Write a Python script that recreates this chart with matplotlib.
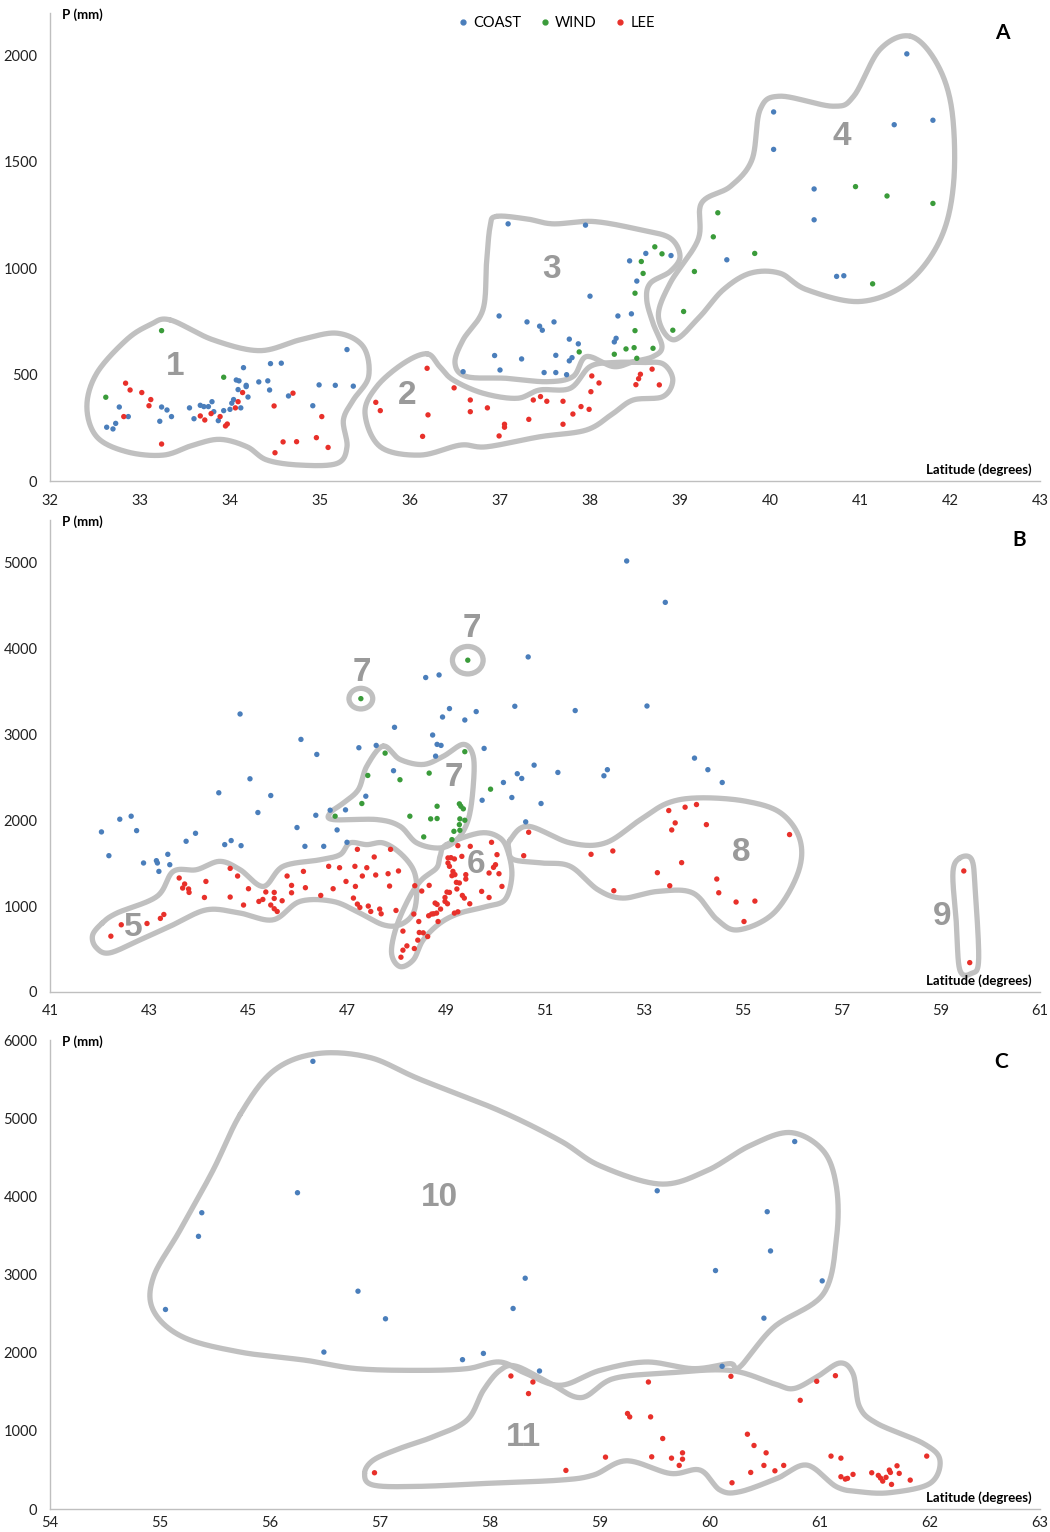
import numpy as np
import matplotlib
matplotlib.use("Agg")
import matplotlib.pyplot as plt
from matplotlib.patches import Ellipse
from matplotlib.lines import Line2D

plt.rcParams['font.family'] = ['Lato', 'DejaVu Sans']

BLUE = '#4a7ebb'
GREEN = '#3a9b3a'
RED = '#e8302a'
OUTLINE = '#c0c0c0'
LABEL = '#9a9a9a'

# ---------------- panel A data ----------------
a_coast_lat = [32.63, 32.70, 32.73, 32.77, 32.87, 33.22, 33.24, 33.30, 33.35, 33.55, 33.60, 33.67, 33.71, 33.76,
               33.80, 33.82, 33.87, 33.93, 34.00, 34.02, 34.04, 34.07, 34.10, 34.09, 34.15, 34.18, 34.18, 34.12,
               34.20, 34.32, 34.42, 34.44, 34.45, 34.57, 34.65, 34.92, 34.99, 35.17, 35.30, 35.37,
               36.59, 36.94, 36.99, 37.00, 37.09, 37.24, 37.30, 37.44, 37.47, 37.49, 37.60, 37.62, 37.62, 37.74,
               37.77, 37.77, 37.80, 37.87, 37.95, 38.00, 38.27, 38.29, 38.31, 38.44, 38.46, 38.52, 38.62, 38.90,
               39.52, 40.04, 40.04, 40.49, 40.49, 40.74, 40.82, 41.38, 41.52, 41.81]
a_coast_p = [253, 245, 271, 348, 303, 281, 348, 334, 303, 344, 293, 356, 350, 350,
             373, 326, 284, 331, 337, 366, 383, 475, 471, 430, 533, 450, 444, 344,
             395, 466, 471, 428, 552, 554, 400, 354, 452, 450, 618, 446,
             514, 590, 776, 522, 1209, 574, 748, 728, 709, 510, 748, 591, 510, 500,
             667, 565, 580, 645, 1203, 869, 654, 671, 776, 1035, 786, 940, 1070, 1060,
             1040, 1735, 1559, 1373, 1228, 962, 965, 1675, 2008, 1696]

a_wind_lat = [33.24, 32.62, 33.93, 38.72, 38.80, 38.57, 38.59, 38.50, 38.50, 37.88, 38.27, 38.40, 38.49,
              38.70, 38.52, 39.16, 39.04, 38.92, 40.95, 41.30, 41.81, 39.42, 39.37, 39.83, 41.14]
a_wind_p = [707, 394, 488, 1101, 1068, 1032, 976, 883, 707, 607, 596, 621, 627,
            624, 577, 985, 797, 709, 1384, 1340, 1305, 1261, 1148, 1070, 927]

a_lee_lat = [32.84, 32.89, 32.82, 33.02, 33.12, 33.10, 33.24, 33.67, 33.72, 33.79, 33.89, 33.95, 33.97,
             34.06, 34.09, 34.14, 34.49, 34.59, 34.50, 34.70, 34.74, 34.96, 35.02, 35.09,
             36.19, 35.62, 35.67, 36.20, 36.14, 36.49, 36.67, 36.67, 36.86, 37.37, 37.45, 37.52, 37.70,
             37.32, 37.05, 37.05, 36.99, 37.70, 37.81, 37.90, 37.99, 38.01, 38.10, 38.02, 38.51, 38.54,
             38.56, 38.69, 38.77]
a_lee_p = [460, 428, 303, 416, 383, 354, 174, 306, 287, 317, 303, 259, 268,
           344, 373, 416, 353, 184, 133, 413, 185, 204, 303, 158,
           530, 370, 331, 311, 210, 438, 381, 326, 344, 381, 397, 375, 375,
           290, 267, 253, 212, 267, 315, 350, 337, 420, 461, 494, 453, 481,
           502, 526, 452]

# ---------------- panel B data ----------------
b_coast_lat = [44.84, 46.07, 46.39, 47.24, 45.04, 44.41, 45.46, 45.20, 42.41, 42.64, 42.75, 42.04, 42.19,
               42.89, 43.15, 43.17, 43.20, 43.38, 43.42, 43.75, 43.94, 44.53, 44.66, 44.86, 45.99, 46.37,
               46.66, 46.97, 47.38, 46.80, 46.15, 46.53, 47.00,
               50.66, 48.59, 48.86, 49.07, 48.93, 49.38, 49.61, 50.39, 47.96, 48.73, 48.82, 48.90, 48.79,
               49.77, 47.59, 47.94, 50.78, 50.44, 50.53, 50.16, 51.26, 49.73, 50.33, 50.92, 50.61,
               52.65, 53.43, 51.61, 53.06, 54.02, 54.29, 54.58, 52.19, 52.26]
b_coast_p = [3239, 2943, 2768, 2846, 2484, 2321, 2289, 2091, 2013, 2048, 1880, 1865, 1588,
             1503, 1530, 1503, 1405, 1604, 1483, 1756, 1849, 1717, 1764, 1705, 1916, 2059,
             2118, 2122, 2281, 1888, 1697, 1697, 1744,
             3904, 3664, 3694, 3302, 3204, 3169, 3267, 3329, 3084, 2994, 2885, 2873, 2748,
             2838, 2873, 2578, 2643, 2543, 2488, 2441, 2558, 2234, 2266, 2196, 1982,
             5022, 4540, 3279, 3332, 2725, 2590, 2441, 2519, 2590]

b_wind_lat = [47.28, 49.44, 47.77, 47.42, 48.07, 47.30, 46.76, 48.66, 49.38, 49.90, 48.82, 48.27, 48.69,
              48.82, 49.27, 49.30, 49.35, 49.28, 49.38, 49.27, 49.28, 49.16, 48.55, 49.12]
b_wind_p = [3418, 3866, 2783, 2523, 2473, 2196, 2048, 2550, 2800, 2363, 2164, 2048, 2017,
            2021, 2192, 2164, 2134, 2017, 2001, 1950, 1884, 1872, 1807, 1775]

b_lee_lat = [42.23, 42.44, 42.96, 43.23, 43.30, 43.61, 43.72, 43.68, 43.80, 43.81, 44.15, 44.12, 44.64,
             44.79, 44.64, 45.01, 44.91, 45.22, 45.30, 45.36, 45.53, 45.53, 45.46, 45.53, 45.59, 45.69,
             45.79, 45.88, 45.88, 46.12, 46.16, 46.47, 46.63, 46.72, 46.85, 46.98, 47.16, 47.17, 47.21,
             47.31, 47.40, 47.13, 47.21, 47.26, 47.43,
             47.48, 47.55, 47.58, 47.66, 47.69, 47.83, 47.86, 47.88, 48.04, 47.99, 48.37, 48.51,
             48.66, 48.35, 48.45, 48.13, 48.46, 48.54, 48.63, 48.43, 48.21, 48.13, 48.36, 48.09, 48.65,
             48.71, 48.75, 48.81, 48.84, 48.78, 48.82, 48.89, 49.02, 48.98, 48.98, 49.07, 49.03, 49.17,
             49.24, 49.22, 49.21, 49.27, 49.33, 49.37, 49.48, 49.18, 49.12, 49.14, 49.07, 49.04, 49.04,
             49.10, 49.17, 49.32, 49.49, 49.24, 49.40, 49.40, 49.72, 49.87, 49.87, 49.96, 50.00, 50.07,
             50.13, 50.03, 49.92,
             50.67, 50.57, 53.50, 53.83, 54.06, 53.63, 53.56, 54.26, 55.94, 51.93, 52.37, 53.76, 53.27,
             53.52, 52.39, 54.47, 54.51, 54.86, 55.24, 55.02,
             59.46, 59.58]
b_lee_p = [650, 783, 798, 857, 903, 1328, 1258, 1211, 1200, 1160, 1288, 1101, 1440,
           1351, 1106, 1203, 1013, 1055, 1078, 1165, 1160, 1090, 1013, 970, 938, 1063,
           1351, 1242, 1156, 1405, 1215, 1125, 1464, 1203, 1448, 1288, 1464, 1230, 1662,
           1351, 1448, 1094, 1024, 985, 1001,
           938, 1573, 1363, 966, 911, 1378, 1234, 1662, 1410, 950, 1238, 1176,
           1242, 908, 821, 709, 693, 689, 646, 604, 537, 487, 506, 405, 888,
           908, 911, 919, 821, 1036, 1020, 966, 1164, 1101, 1055, 1160, 1028, 919,
           934, 1200, 1277, 1270, 1125, 1094, 1028, 1367, 1355, 1405, 1464, 1503, 1562,
           1565, 1550, 1580, 1697, 1705, 1367, 1316, 1172, 1101, 1386, 1452, 1483, 1378,
           1230, 1600, 1744,
           1861, 1588, 2114, 2153, 2184, 1970, 1888, 1950, 1834, 1604, 1643, 1507, 1390,
           1238, 1180, 1316, 1156, 1048, 1059, 821,
           1410, 342]

# ---------------- panel C data ----------------
c_coast_lat = [56.39, 56.25, 55.38, 55.35, 55.05, 56.80, 57.05, 56.49, 59.52, 60.05, 58.32, 58.21, 57.75,
               57.94, 58.45, 60.11, 60.77, 60.52, 60.55, 61.02, 60.49]
c_coast_p = [5728, 4047, 3791, 3489, 2553, 2787, 2434, 2008, 4072, 3051, 2953, 2566, 1911,
             1991, 1766, 1826, 4702, 3804, 3302, 2919, 2442]

c_lee_lat = [56.95, 58.19, 58.39, 58.35, 59.44, 59.25, 59.27, 59.46, 59.57, 59.05, 59.47, 59.65, 59.75,
             59.75, 59.72, 58.69, 60.20, 60.19, 61.14, 60.97, 60.82, 60.34, 60.40, 60.51, 60.49, 60.37,
             60.59, 60.67, 61.10, 61.19, 61.19, 61.23, 61.25, 61.30, 61.47, 61.53, 61.55, 61.57, 61.60,
             61.63, 61.64, 61.65, 61.70, 61.72, 61.82, 61.97]
c_lee_p = [464, 1702, 1625, 1477, 1625, 1222, 1179, 1179, 902, 664, 668, 651, 719,
           638, 558, 494, 336, 1698, 1706, 1634, 1391, 957, 813, 719, 558, 468,
           489, 558, 677, 651, 413, 383, 392, 443, 464, 430, 396, 357, 405,
           498, 468, 315, 553, 456, 370, 677]

# ---------------- group outlines (lat, P) ----------------
group1 = [(33.33, 758), (33.81, 664), (34.33, 613), (34.78, 664), (35.19, 695), (35.48, 632), (35.54, 491),
          (35.37, 381), (35.26, 287), (35.30, 161), (35.19, 83), (34.78, 75), (34.41, 99), (34.19, 161),
          (33.89, 196), (33.59, 169), (33.26, 122), (32.85, 138), (32.52, 208), (32.41, 350), (32.52, 507),
          (32.85, 664), (33.11, 734)]
group2 = [(36.19, 598), (36.33, 538), (36.48, 475), (36.81, 413), (37.19, 389), (37.44, 428), (37.78, 436),
          (38.00, 538), (38.26, 557), (38.56, 557), (38.81, 551), (38.92, 475), (38.81, 397), (38.48, 381),
          (38.26, 319), (37.96, 240), (37.44, 208), (36.85, 161), (36.56, 169), (36.11, 122), (35.67, 161),
          (35.50, 319), (35.63, 444), (35.93, 554)]
group3 = [(36.96, 1244), (37.30, 1232), (37.59, 1209), (38.04, 1220), (38.56, 1181), (38.89, 1142),
          (39.00, 1056), (38.89, 985), (38.67, 930), (38.63, 852), (38.70, 742), (38.80, 632), (38.70, 585),
          (38.48, 561), (38.26, 538), (37.96, 585), (37.81, 491), (37.52, 467), (37.07, 483), (36.63, 491),
          (36.50, 554), (36.59, 664), (36.81, 805), (36.85, 1024), (36.89, 1197)]
group4 = [(41.56, 2091), (41.85, 1966), (42.02, 1746), (42.04, 1401), (41.89, 1134), (41.52, 930),
          (41.00, 844), (40.41, 899), (40.11, 977), (39.78, 977), (39.48, 899), (39.22, 773), (38.93, 664),
          (38.76, 773), (38.89, 930), (39.20, 1134), (39.24, 1307), (39.56, 1385), (39.80, 1511),
          (39.89, 1746), (40.11, 1809), (40.70, 1762), (40.93, 1809), (41.22, 2028)]

group5 = [(42.05, 800), (42.35, 919), (43.16, 1113), (43.49, 1405), (43.96, 1425), (44.43, 1522),
          (44.84, 1425), (45.31, 1230), (45.71, 1464), (46.45, 1540), (46.86, 1600), (47.06, 1737),
          (47.40, 1717), (47.73, 1737), (48.07, 1620), (48.34, 1425), (48.41, 1191), (48.34, 919),
          (48.07, 783), (47.73, 783), (47.26, 919), (46.72, 1055), (46.05, 1055), (45.51, 841),
          (44.84, 919), (44.17, 958), (43.49, 783), (42.82, 607), (42.20, 455), (41.93, 520), (41.86, 660)]
group6 = [(49.01, 1717), (49.69, 1853), (50.09, 1795), (50.26, 1620), (50.33, 1347), (50.19, 1075),
          (49.82, 996), (49.28, 919), (48.88, 802), (48.54, 607), (48.34, 374), (48.07, 296), (47.90, 452),
          (48.00, 763), (48.27, 1113), (48.51, 1308), (48.81, 1445), (48.88, 1580)]
group7 = [(47.73, 2865), (48.07, 2710), (48.54, 2651), (48.95, 2748), (49.35, 2885), (49.55, 2748),
          (49.55, 2398), (49.45, 2009), (49.22, 1775), (48.88, 1678), (48.41, 1737), (48.07, 1931),
          (47.60, 2009), (46.72, 2009), (46.66, 2087), (46.93, 2204), (47.23, 2359), (47.40, 2631)]
group8 = [(50.30, 1775), (50.66, 1931), (51.51, 1737), (52.22, 1737), (52.93, 2009), (53.49, 2204),
          (54.13, 2262), (55.05, 2223), (55.76, 2087), (56.15, 1775), (56.11, 1386), (55.62, 919),
          (54.91, 724), (54.48, 841), (53.99, 1153), (53.28, 1172), (52.57, 1094), (52.07, 1191),
          (51.51, 1464), (50.94, 1503), (50.37, 1542), (50.27, 1659)]
group9 = [(59.38, 1561), (59.62, 1542), (59.69, 1191), (59.76, 374), (59.62, 218), (59.38, 257),
          (59.31, 802), (59.24, 1386)]

group10 = [(55.73, 5051), (56.03, 5604), (56.42, 5825), (56.90, 5780), (57.36, 5500), (58.09, 5094),
           (58.64, 4711), (59.00, 4392), (59.55, 4158), (59.97, 4328), (60.36, 4647), (60.73, 4817),
           (61.03, 4583), (61.15, 4114), (61.15, 3476), (61.03, 2753), (60.58, 2327), (60.27, 1817),
           (60.18, 1860), (59.85, 1796), (59.42, 1881), (59.00, 1774), (58.64, 1583), (58.33, 1732),
           (58.09, 1881), (57.79, 1796), (57.36, 1774), (56.79, 1796), (56.33, 1902), (55.73, 2008),
           (55.21, 2200), (54.94, 2540), (54.94, 2966), (55.18, 3562), (55.48, 4328)]
group11 = [(56.86, 456), (56.94, 626), (57.18, 775), (57.48, 923), (57.79, 1136), (57.94, 1519),
           (58.09, 1774), (58.24, 1826), (58.55, 1605), (58.83, 1426), (59.12, 1668), (59.61, 1740),
           (60.18, 1774), (60.58, 1604), (60.76, 1541), (60.97, 1689), (61.18, 1868), (61.30, 1732),
           (61.36, 1306), (61.52, 1094), (61.94, 838), (62.09, 626), (62.00, 328), (61.64, 210),
           (61.36, 221), (61.15, 285), (60.88, 562), (60.61, 392), (60.27, 221), (60.09, 243),
           (59.91, 498), (59.64, 455), (59.24, 617), (58.94, 434), (58.64, 370), (58.00, 330),
           (57.36, 290), (56.94, 306)]

# small single-station groups in B (centre lat, P, width, height)
group7_single = [(47.28, 3418, 0.48, 240), (49.44, 3866, 0.62, 320)]


def smooth_closed(pts, n=24):
    """closed Catmull-Rom curve through the points"""
    p = np.asarray(pts, dtype=float)
    t = np.linspace(0, 1, n, endpoint=False)[:, None]
    segs = []
    for i in range(len(p)):
        p0, p1, p2, p3 = p[i - 1], p[i], p[(i + 1) % len(p)], p[(i + 2) % len(p)]
        segs.append(0.5 * (2 * p1 + (-p0 + p2) * t + (2 * p0 - 5 * p1 + 4 * p2 - p3) * t ** 2
                           + (-p0 + 3 * p1 - 3 * p2 + p3) * t ** 3))
    s = np.vstack(segs)
    return np.vstack([s, s[:1]])


def draw_outline(ax, pts):
    c = smooth_closed(pts)
    ax.plot(c[:, 0], c[:, 1], color=OUTLINE, lw=3.8, solid_capstyle='round', zorder=1)


def group_label(ax, x, y, s):
    ax.text(x, y, s, fontsize=24, fontweight='bold', color=LABEL, ha='center', va='center',
            family=['Liberation Sans', 'DejaVu Sans'], zorder=4)


def style_axes(ax, xlim, xticks, ylim, yticks, letter, letter_pos, xpad=9):
    ax.set_xlim(*xlim)
    ax.set_ylim(*ylim)
    ax.set_xticks(xticks)
    ax.set_yticks(yticks)
    for side in ['top', 'right']:
        ax.spines[side].set_visible(False)
    for side in ['left', 'bottom']:
        ax.spines[side].set_color('#bfbfbf')
        ax.spines[side].set_linewidth(1.0)
    ax.tick_params(length=0, labelsize=10.5, colors='#222222')
    ax.tick_params(axis='x', pad=xpad)
    ax.tick_params(axis='y', pad=9)
    ax.text(0.012, 0.997, 'P (mm)', transform=ax.transAxes, fontsize=9.5, fontweight='bold',
            ha='left', va='center')
    ax.text(0.992, 0.024, 'Latitude (degrees)', transform=ax.transAxes, fontsize=9.5,
            fontweight='bold', ha='right', va='center')
    ax.text(letter_pos[0], letter_pos[1], letter, transform=ax.transAxes, fontsize=15,
            fontweight='bold', ha='center', va='center')


def scatter(ax, lat, p, color):
    ax.scatter(lat, p, s=15, color=color, edgecolors='none', zorder=3)


fig = plt.figure(figsize=(10.5, 15.32), dpi=100)
ax_a = fig.add_axes([0.0476, 0.686, 0.9429, 0.3055])
ax_b = fig.add_axes([0.0476, 0.3525, 0.9429, 0.3081])
ax_c = fig.add_axes([0.0476, 0.0150, 0.9429, 0.3061])

# panel A
style_axes(ax_a, (32, 43), range(32, 44), (0, 2200), range(0, 2001, 500), 'A', (0.962, 0.957))
for g in [group1, group2, group3, group4]:
    draw_outline(ax_a, g)
scatter(ax_a, a_coast_lat, a_coast_p, BLUE)
scatter(ax_a, a_wind_lat, a_wind_p, GREEN)
scatter(ax_a, a_lee_lat, a_lee_p, RED)
for x, y, s in [(33.39, 537, '1'), (35.97, 400, '2'), (37.57, 993, '3'), (40.80, 1619, '4')]:
    group_label(ax_a, x, y, s)

# panel B
style_axes(ax_b, (41, 61), range(41, 62, 2), (0, 5500), range(0, 5001, 1000), 'B', (0.979, 0.958))
for g in [group5, group6, group7, group8, group9]:
    draw_outline(ax_b, g)
for lat, p, w, h in group7_single:
    ax_b.add_patch(Ellipse((lat, p), w, h, fill=False, ec=OUTLINE, lw=3.8, zorder=1))
scatter(ax_b, b_coast_lat, b_coast_p, BLUE)
scatter(ax_b, b_wind_lat, b_wind_p, GREEN)
scatter(ax_b, b_lee_lat, b_lee_p, RED)
for x, y, s in [(42.68, 748, '5'), (49.61, 1483, '6'), (49.16, 2500, '7'), (47.30, 3722, '7'),
                (49.52, 4236, '7'), (54.96, 1624, '8'), (59.02, 876, '9')]:
    group_label(ax_b, x, y, s)

# panel C
style_axes(ax_c, (54, 63), range(54, 64), (0, 6000), range(0, 6001, 1000), 'C', (0.961, 0.953), xpad=5)
for g in [group10, group11]:
    draw_outline(ax_c, g)
scatter(ax_c, c_coast_lat, c_coast_p, BLUE)
scatter(ax_c, c_lee_lat, c_lee_p, RED)
for x, y, s in [(57.54, 3983, '10'), (58.30, 919, '11')]:
    group_label(ax_c, x, y, s)

handles = [Line2D([], [], ls='none', marker='o', ms=3.5, color=c) for c in [BLUE, GREEN, RED]]
fig.legend(handles, ['COAST', 'WIND', 'LEE'], loc='center', bbox_to_anchor=(0.529, 1 - 23 / 1532),
           ncol=3, frameon=False, fontsize=10.5, handletextpad=0.2, columnspacing=1.1, handlelength=1.0)

fig.savefig('out.png', dpi=100)
